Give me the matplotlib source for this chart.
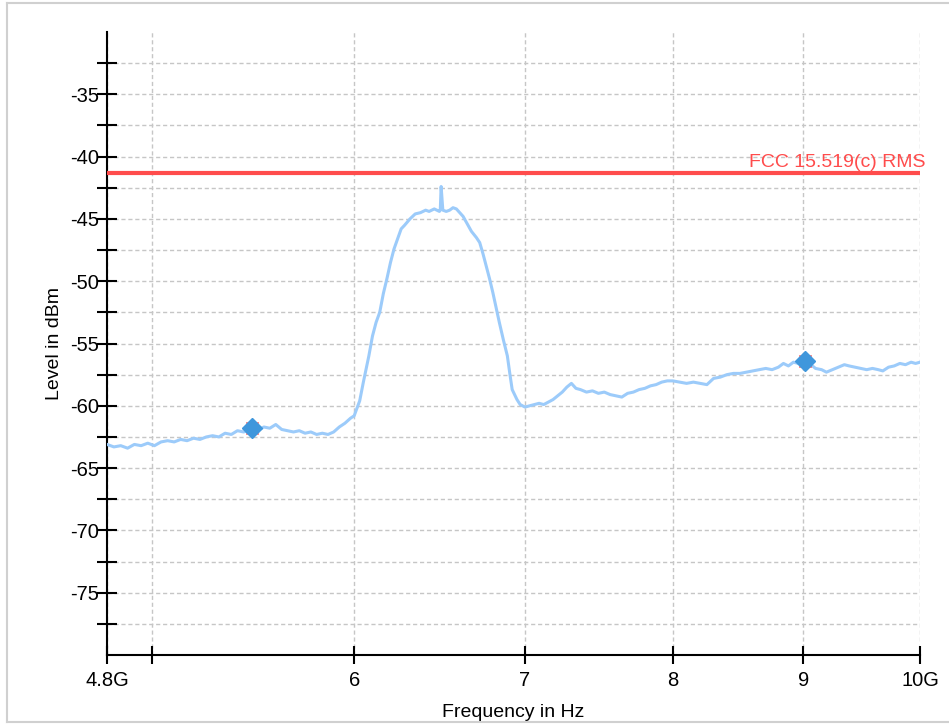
import matplotlib
matplotlib.use('Agg')
import matplotlib.pyplot as plt
import matplotlib.ticker as mticker
from matplotlib.lines import Line2D
import numpy as np

# spectrum trace (GHz, dBm)
freq_ghz = [
    4.80, 4.83, 4.86, 4.89, 4.92, 4.95, 4.98, 5.01, 5.04, 5.07,
    5.10, 5.13, 5.16, 5.19, 5.22, 5.25, 5.28, 5.31, 5.34, 5.37,
    5.40, 5.43, 5.47, 5.50, 5.53, 5.56, 5.59, 5.62, 5.65, 5.68,
    5.71, 5.74, 5.77, 5.80, 5.83, 5.86, 5.89, 5.92, 5.95, 5.98,
    6.00, 6.03, 6.05, 6.08, 6.10, 6.12, 6.14, 6.16, 6.18, 6.20,
    6.22, 6.24, 6.26, 6.28, 6.31, 6.34, 6.37, 6.40, 6.42, 6.45,
    6.48, 6.485, 6.49, 6.50, 6.52, 6.54, 6.56, 6.58, 6.60, 6.62,
    6.645, 6.67, 6.70, 6.72, 6.74, 6.76, 6.78, 6.80, 6.82, 6.84,
    6.865, 6.89, 6.905, 6.92, 6.95, 6.97, 7.00, 7.03, 7.06, 7.09,
    7.12, 7.15, 7.18, 7.21, 7.24, 7.27, 7.30, 7.33, 7.36, 7.40,
    7.44, 7.48, 7.52, 7.56, 7.60, 7.64, 7.68, 7.72, 7.76, 7.80,
    7.84, 7.88, 7.92, 7.96, 8.00, 8.05, 8.10, 8.15, 8.20, 8.25,
    8.30, 8.35, 8.40, 8.45, 8.50, 8.55, 8.60, 8.65, 8.70, 8.75,
    8.80, 8.84, 8.88, 8.92, 8.96, 9.00, 9.05, 9.10, 9.15, 9.19,
    9.24, 9.29, 9.34, 9.38, 9.43, 9.48, 9.53, 9.58, 9.63, 9.67,
    9.72, 9.77, 9.82, 9.87, 9.92, 9.96, 10.00,
]
level_dbm = [
    -63.1, -63.3, -63.2, -63.4, -63.1, -63.2, -63.0, -63.2, -62.9, -62.8,
    -62.9, -62.7, -62.8, -62.6, -62.7, -62.5, -62.4, -62.5, -62.2, -62.3,
    -62.0, -62.1, -61.9, -62.0, -61.7, -61.8, -61.5, -61.9, -62.0, -62.1,
    -62.0, -62.2, -62.1, -62.3, -62.2, -62.3, -62.1, -61.7, -61.4, -61.0,
    -60.8, -59.6, -58.1, -56.0, -54.4, -53.3, -52.5, -51.0, -49.8, -48.5,
    -47.4, -46.6, -45.8, -45.5, -45.0, -44.6, -44.5, -44.3, -44.4, -44.2,
    -44.4, -44.3, -42.4, -44.3, -44.4, -44.3, -44.1, -44.2, -44.5, -44.8,
    -45.4, -46.0, -46.5, -46.9, -47.8, -48.8, -49.8, -50.9, -52.1, -53.3,
    -54.7, -56.0, -57.4, -58.7, -59.5, -59.9, -60.1, -60.0, -59.9, -59.8,
    -59.9, -59.7, -59.5, -59.2, -58.9, -58.5, -58.2, -58.6, -58.7, -58.9,
    -58.8, -59.0, -58.9, -59.1, -59.2, -59.3, -59.0, -58.9, -58.7, -58.6,
    -58.4, -58.3, -58.1, -58.0, -58.0, -58.1, -58.2, -58.1, -58.2, -58.3,
    -57.8, -57.7, -57.5, -57.4, -57.4, -57.3, -57.2, -57.1, -57.0, -57.1,
    -56.9, -56.6, -56.8, -56.5, -56.6, -56.5, -56.6, -57.0, -57.1, -57.3,
    -57.1, -56.9, -56.7, -56.8, -56.9, -57.0, -57.1, -57.0, -57.1, -57.2,
    -56.9, -56.8, -56.6, -56.7, -56.5, -56.6, -56.5,
]

# markers
marker_ghz = [5.47, 9.01]
marker_dbm = [-61.8, -56.4]

limit_dbm = -41.3
limit_label = 'FCC 15.519(c) RMS'

x_ticks_ghz = [4.8, 5, 6, 7, 8, 9, 10]
x_tick_labels = ['4.8G', '', '6', '7', '8', '9', '10G']
y_major = [-75, -70, -65, -60, -55, -50, -45, -40, -35]
y_minor = [-77.5, -72.5, -67.5, -62.5, -57.5, -52.5, -47.5, -42.5, -37.5, -32.5]

plt.rcParams['font.family'] = ['Liberation Sans', 'DejaVu Sans']

fig = plt.figure(figsize=(9.49, 7.28), dpi=100)
ax = fig.add_axes([107 / 949, 1 - 655 / 728, (920 - 107) / 949, (655 - 32) / 728])

freq_hz = np.array(freq_ghz) * 1e9
ax.plot(freq_hz, level_dbm, color='#9ccbfa', linewidth=2.2, zorder=3)

ax.axhline(limit_dbm, color='#ff4c4c', linewidth=3, zorder=4)
ax.annotate(limit_label, xy=(10e9, limit_dbm), xytext=(4, 1),
            textcoords='offset points', ha='right', va='bottom',
            color='#ff4c4c', fontsize=14, zorder=5)

mk_hz = np.array(marker_ghz) * 1e9
ax.plot(mk_hz, marker_dbm, linestyle='none', marker='x', markersize=8,
        markeredgewidth=1.0, color='#ff2020', zorder=5)
ax.plot(mk_hz, marker_dbm, linestyle='none', marker='D', markersize=10.5,
        color='#3f97dc', zorder=6)

ax.set_xscale('log')
ax.set_xlim(4.8e9, 10e9)
ax.set_ylim(-80, -30)

ax.xaxis.set_major_locator(mticker.FixedLocator([v * 1e9 for v in x_ticks_ghz]))
ax.xaxis.set_major_formatter(mticker.FixedFormatter(x_tick_labels))
ax.xaxis.set_minor_locator(mticker.NullLocator())
ax.yaxis.set_major_locator(mticker.FixedLocator(y_major))
ax.yaxis.set_minor_locator(mticker.FixedLocator(y_minor))
ax.yaxis.set_major_formatter(mticker.FuncFormatter(lambda v, p: f'{v:.0f}'))

ax.grid(True, which='both', axis='y', color='#c6c6c6', linestyle=(0, (3, 2)), linewidth=1)
ax.grid(True, which='major', axis='x', color='#c6c6c6', linestyle=(0, (3, 2)), linewidth=1)
ax.set_axisbelow(True)

for side in ('top', 'right'):
    ax.spines[side].set_visible(False)
for side in ('left', 'bottom'):
    ax.spines[side].set_linewidth(1.5)
    ax.spines[side].set_color('black')

ax.tick_params(axis='y', which='both', direction='inout', length=14, width=1.5,
               labelsize=14.5, pad=-1.5)
ax.tick_params(axis='x', which='major', direction='inout', length=13, width=1.5,
               labelsize=14.5, pad=5)

ax.set_xlabel('Frequency in Hz', fontsize=14, labelpad=10)
ax.set_ylabel('Level in dBm', fontsize=14, labelpad=5)

# light frame around the whole chart
frame_kw = dict(color='#d0d0d0', linewidth=1.5, transform=fig.transFigure)
fig.add_artist(Line2D([7 / 949, 7 / 949], [1 - 3 / 728, 1 - 722 / 728], **frame_kw))
fig.add_artist(Line2D([7 / 949, 1.0], [1 - 3 / 728, 1 - 3 / 728], **frame_kw))
fig.add_artist(Line2D([7 / 949, 1.0], [1 - 722 / 728, 1 - 722 / 728], **frame_kw))

fig.savefig('out.png', dpi=100)
